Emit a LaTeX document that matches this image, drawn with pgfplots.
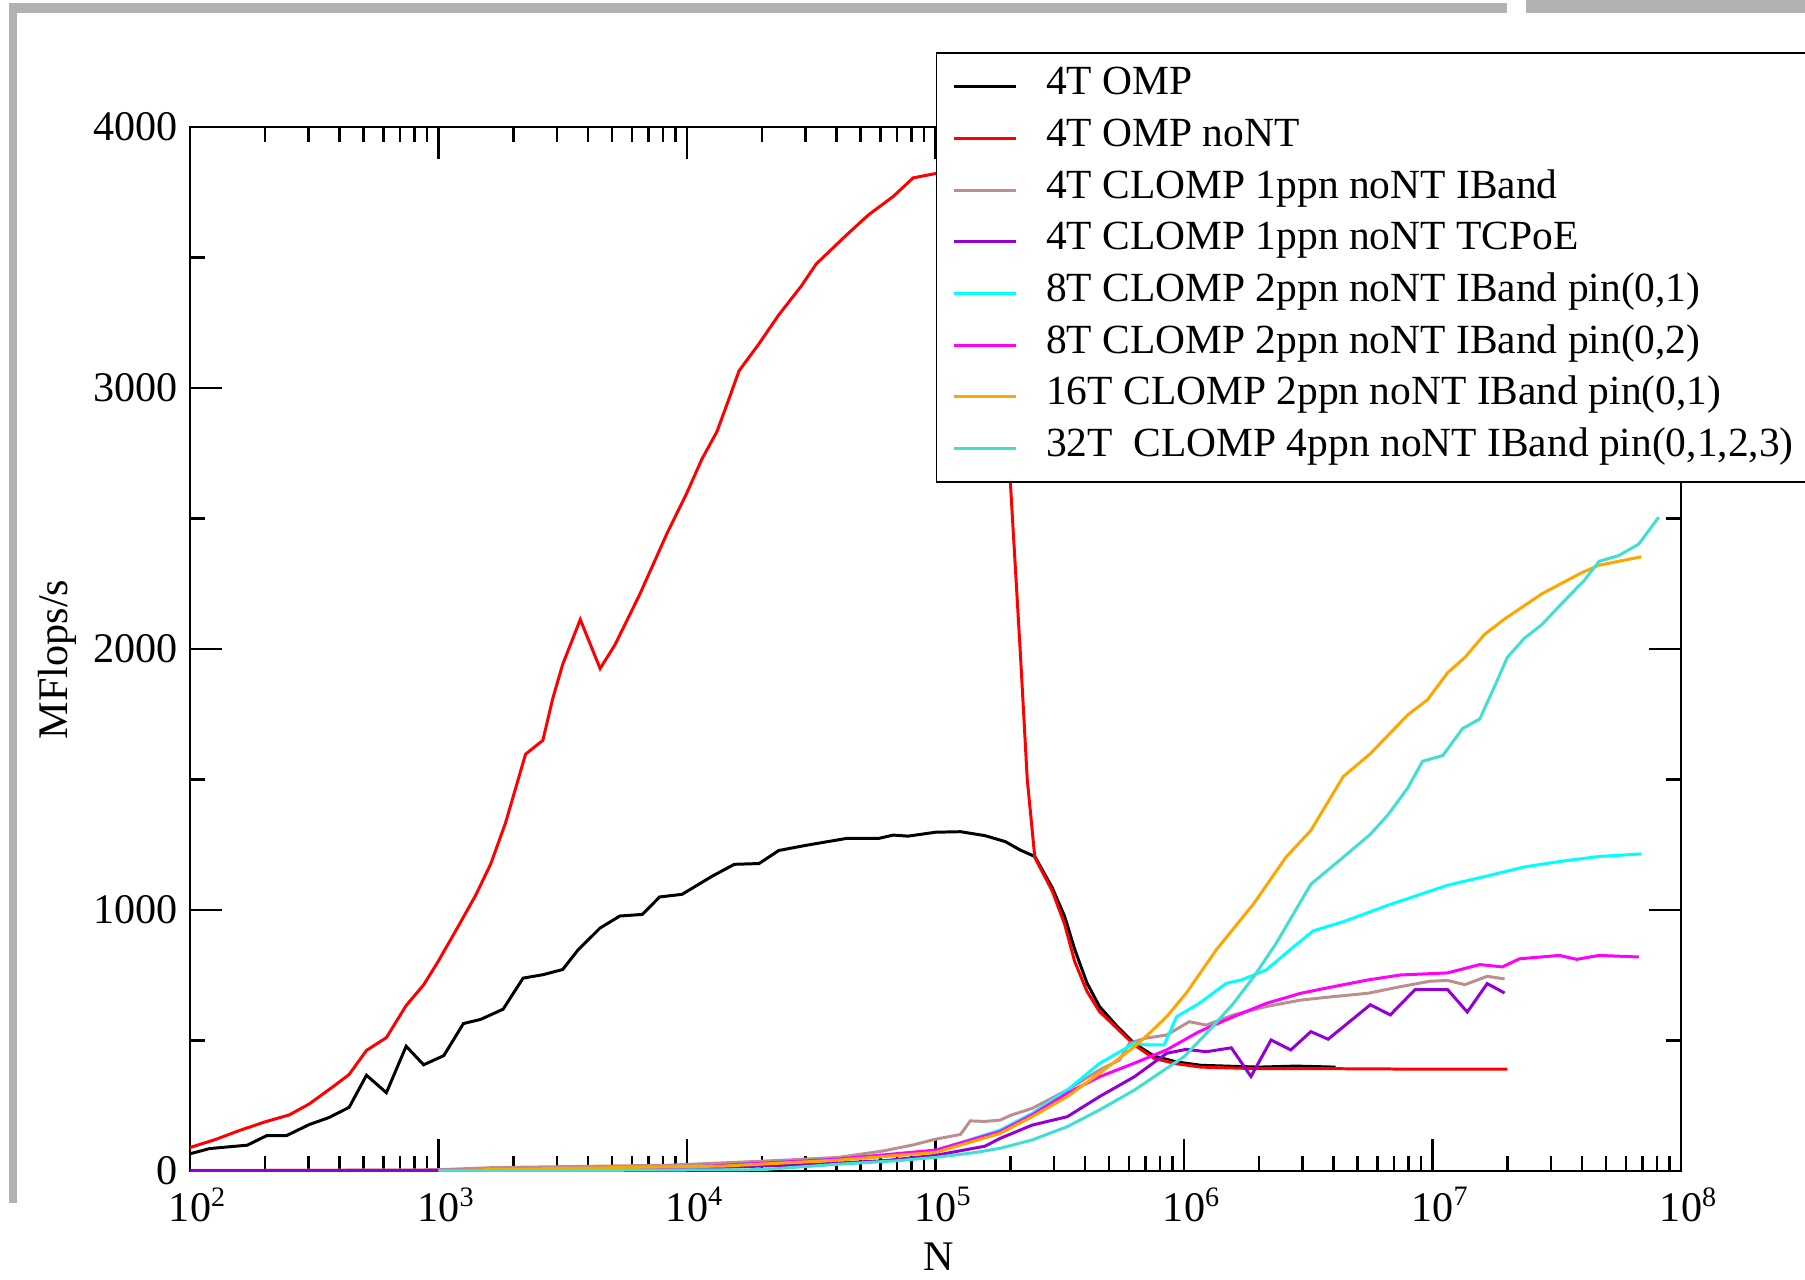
\documentclass[border=0pt]{standalone}
\usepackage{fontspec}
\setmainfont{Liberation Serif}
\usepackage{pgfplots}
\pgfplotsset{compat=1.18}
\definecolor{cBrown}{RGB}{188,143,143}
\definecolor{cViolet}{RGB}{148,0,211}
\definecolor{cCyan}{RGB}{0,255,255}
\definecolor{cMagenta}{RGB}{255,0,255}
\definecolor{cOrange}{RGB}{255,165,0}
\definecolor{cTurq}{RGB}{64,224,208}
\definecolor{cFrame}{RGB}{178,178,178}

\begin{document}
\begin{tikzpicture}
\begin{axis}[
  at={(0,0)}, anchor=south west,
  scale only axis, width=149.1mm, height=104.4mm,
  xmode=log, xmin=1e2, xmax=1e8, ymin=0, ymax=4000,
  xtick={1e2,1e3,1e4,1e5,1e6,1e7,1e8},
  xticklabels={10\rlap{\textsuperscript{2}},10\rlap{\textsuperscript{3}},10\rlap{\textsuperscript{4}},10\rlap{\textsuperscript{5}},10\rlap{\textsuperscript{6}},10\rlap{\textsuperscript{7}},10\rlap{\textsuperscript{8}}},
  minor xtick={2e2,3e2,4e2,5e2,6e2,7e2,8e2,9e2,2e3,3e3,4e3,5e3,6e3,7e3,8e3,9e3,
    2e4,3e4,4e4,5e4,6e4,7e4,8e4,9e4,2e5,3e5,4e5,5e5,6e5,7e5,8e5,9e5,
    2e6,3e6,4e6,5e6,6e6,7e6,8e6,9e6,2e7,3e7,4e7,5e7,6e7,7e7,8e7,9e7},
  ytick={0,1000,2000,3000,4000},
  yticklabels={0,1000,2000,3000,4000},
  minor ytick={500,1500,2500,3500},
  tick align=inside, xtick pos=both, ytick pos=both,
  major tick length=3.2mm, minor tick length=1.5mm,
  every tick/.style={black, line width=0.7pt},
  axis line style={line width=0.7pt},
  font=\fontsize{12}{14.4}\selectfont,
  xticklabel style={yshift=-0.4mm},
  xlabel={N}, ylabel={MFlops/s},
  xlabel style={at={(axis description cs:0.502,-0.082)}, anchor=center},
  ylabel style={at={(axis description cs:-0.089,0.49)}, anchor=center},
  legend style={at={(axis description cs:0.5,1)}, anchor=north west, yshift=7.5mm,
    draw=black, line width=0.5pt, fill=white, inner xsep=4.5pt, inner ysep=2.3pt,
    row sep=0pt, column sep=2.9mm,
    nodes={inner sep=0pt, text height=9.6pt, text depth=5.1pt},
    font=\fontsize{11.8}{14.2}\selectfont},
  legend cell align=left,
  legend image code/.code={\draw[#1] (0mm,0mm) -- (6.2mm,0mm);},
]
% 4T OMP
\addplot[black, line width=0.85pt] coordinates {
(1.00e2,66)(1.20e2,86)(1.70e2,99)(2.04e2,136)(2.45e2,136)(3.02e2,178)(3.63e2,205)
(4.37e2,244)(5.13e2,367)(6.17e2,300)(7.41e2,478)(8.71e2,407)(1.05e3,442)(1.26e3,565)
(1.48e3,581)(1.82e3,620)(2.19e3,739)(2.63e3,752)(3.16e3,772)(3.63e3,845)(4.47e3,931)
(5.37e3,977)(6.61e3,983)(7.76e3,1050)(9.55e3,1060)(1.26e4,1129)(1.55e4,1175)(1.95e4,1178)
(2.34e4,1228)(3.02e4,1248)(4.37e4,1274)(5.89e4,1274)(6.76e4,1287)(7.76e4,1283)(1.00e5,1298)
(1.26e5,1300)(1.58e5,1285)(1.91e5,1262)(2.19e5,1230)(2.51e5,1205)(2.95e5,1085)(3.31e5,975)
(3.63e5,850)(4.07e5,720)(4.57e5,630)(5.37e5,555)(6.31e5,488)(7.59e5,440)(9.33e5,418)
(1.17e6,405)(2.00e6,398)(2.82e6,402)(4.07e6,398)};
% 4T OMP noNT
\addplot[red, line width=0.85pt] coordinates {
(1.00e2,90)(1.26e2,120)(1.58e2,155)(2.00e2,188)(2.51e2,215)(3.02e2,257)(3.80e2,326)
(4.37e2,370)(5.13e2,462)(6.17e2,511)(7.41e2,634)(8.71e2,713)(1.00e3,805)(1.20e3,937)
(1.41e3,1056)(1.62e3,1175)(1.86e3,1333)(2.24e3,1597)(2.63e3,1650)(2.88e3,1809)(3.16e3,1941)
(3.72e3,2113)(4.47e3,1925)(5.13e3,2016)(6.46e3,2210)(8.32e3,2444)(1.00e4,2599)(1.15e4,2729)
(1.32e4,2833)(1.48e4,2962)(1.62e4,3066)(1.95e4,3170)(2.34e4,3280)(2.88e4,3390)(3.31e4,3475)
(4.37e4,3585)(5.37e4,3663)(6.76e4,3734)(8.13e4,3805)(9.55e4,3818)(1.12e5,3830)(1.41e5,3840)
(1.66e5,3790)(1.82e5,3350)(2.00e5,2642)(2.19e5,2000)(2.34e5,1500)(2.51e5,1201)(2.95e5,1073)
(3.31e5,945)(3.63e5,803)(4.07e5,688)(4.57e5,611)(5.37e5,547)(6.31e5,483)(7.59e5,431)
(9.33e5,411)(1.17e6,398)(2.00e6,392)(3.98e6,392)(1.00e7,390)(2.00e7,390)};
% 4T CLOMP 1ppn noNT IBand
\addplot[cBrown, line width=0.85pt] coordinates {
(1e2,2)(1e3,5)(1.66e3,13)(8.32e3,22)(1.74e4,35)(2.40e4,41)(4.07e4,52)(6.17e4,77)
(8.13e4,100)(1.00e5,122)(1.26e5,140)(1.38e5,192)(1.58e5,190)(1.82e5,195)(2.00e5,213)
(2.45e5,240)(3.39e5,310)(4.57e5,387)(5.50e5,425)(6.03e5,489)(6.92e5,508)(8.51e5,521)
(1.05e6,572)(1.23e6,559)(1.58e6,598)(2.14e6,630)(2.95e6,655)(3.98e6,668)(5.50e6,681)
(7.41e6,706)(9.77e6,727)(1.15e7,730)(1.35e7,714)(1.66e7,746)(1.95e7,736)};
% 4T CLOMP 1ppn noNT TCPoE
\addplot[cViolet, line width=0.85pt] coordinates {
(1e2,1)(1e3,2)(1e4,10)(3.16e4,25)(6.31e4,40)(1e5,60)(1.58e5,95)(1.82e5,125)
(2.45e5,176)(3.39e5,208)(4.57e5,285)(6.31e5,361)(8.51e5,451)(1.02e6,466)(1.23e6,457)
(1.55e6,472)(1.86e6,362)(2.24e6,502)(2.69e6,464)(3.24e6,534)(3.80e6,505)(5.62e6,637)
(6.76e6,598)(8.51e6,695)(1.15e7,695)(1.38e7,609)(1.66e7,718)(1.95e7,682)};
% 8T CLOMP 2ppn pin(0,1)
\addplot[cCyan, line width=0.85pt] coordinates {
(1e3,2)(1e4,15)(3.98e4,45)(1e5,78)(1.82e5,157)(2.45e5,221)(3.39e5,310)(4.57e5,412)
(6.31e5,489)(7.08e5,483)(8.32e5,483)(9.33e5,591)(1.15e6,642)(1.48e6,719)(1.70e6,732)
(2.14e6,770)(2.69e6,850)(3.31e6,920)(4.37e6,955)(6.61e6,1018)(1.15e7,1095)(1.62e7,1128)
(2.34e7,1165)(3.31e7,1187)(4.68e7,1205)(6.92e7,1215)};
% 8T CLOMP 2ppn pin(0,2)
\addplot[cMagenta, line width=0.85pt] coordinates {
(1e3,2)(2.51e3,8)(1e4,15)(3.98e4,45)(1e5,80)(1.82e5,151)(2.45e5,215)(3.39e5,298)
(4.57e5,361)(6.31e5,413)(8.51e5,464)(1.15e6,534)(1.58e6,591)(2.14e6,642)(2.95e6,681)
(3.98e6,706)(5.50e6,732)(7.41e6,751)(1.15e7,759)(1.55e7,791)(1.91e7,782)(2.24e7,813)
(3.24e7,826)(3.80e7,811)(4.68e7,826)(6.76e7,820)};
% 16T CLOMP 2ppn pin(0,1)
\addplot[cOrange, line width=0.85pt] coordinates {
(1e3,2)(3.16e3,10)(1.41e4,19)(3.98e4,41)(1e5,71)(1.82e5,144)(2.45e5,208)(3.39e5,285)
(4.57e5,374)(6.31e5,476)(7.24e5,527)(8.51e5,591)(1.02e6,681)(1.35e6,848)(1.91e6,1025)
(2.57e6,1202)(3.24e6,1305)(4.37e6,1511)(5.62e6,1599)(7.94e6,1747)(9.55e6,1806)
(1.15e7,1909)(1.35e7,1968)(1.62e7,2056)(1.95e7,2115)(2.75e7,2211)(3.98e7,2292)
(4.68e7,2321)(5.62e7,2336)(6.92e7,2353)};
% 32T CLOMP 4ppn pin(0,1,2,3)
\addplot[cTurq, line width=0.85pt] coordinates {
(1e3,0)(2.00e4,5)(4.07e4,26)(6.92e4,39)(1e5,52)(1.45e5,71)(1.82e5,87)(2.45e5,119)
(3.39e5,170)(4.57e5,234)(6.31e5,310)(7.94e5,374)(1e6,438)(1.23e6,527)(1.58e6,642)
(1.91e6,745)(2.34e6,870)(3.24e6,1099)(4.37e6,1202)(5.62e6,1290)(6.61e6,1364)(7.94e6,1467)
(9.12e6,1570)(1.10e7,1592)(1.32e7,1695)(1.55e7,1732)(1.82e7,1879)(2.00e7,1968)(2.34e7,2041)
(2.75e7,2093)(3.31e7,2174)(4.07e7,2262)(4.68e7,2336)(5.62e7,2358)(6.76e7,2402)(8.13e7,2505)};
\legend{4T OMP,4T OMP noNT,4T CLOMP 1ppn noNT IBand,4T CLOMP 1ppn noNT TCPoE,
{8T CLOMP 2ppn noNT IBand pin(0,1)},{8T CLOMP 2ppn noNT IBand pin(0,2)},
{16T CLOMP 2ppn noNT IBand pin(0,1)},{32T~~CLOMP 4ppn noNT IBand pin(0,1,2,3)\hspace{6mm}}}
\end{axis}
\begin{scope}[x=0.1mm,y=-0.1mm,shift={(-190,-1171)}]
\fill[cFrame] (9,3) rectangle (1507,13);
\fill[cFrame] (1526,0) rectangle (1805,13);
\fill[cFrame] (9,3) rectangle (17,1203);
\end{scope}
\pgfresetboundingbox
\useasboundingbox (-19mm,-10.8mm) rectangle (161.5mm,117.1mm);
\end{tikzpicture}
\end{document}
